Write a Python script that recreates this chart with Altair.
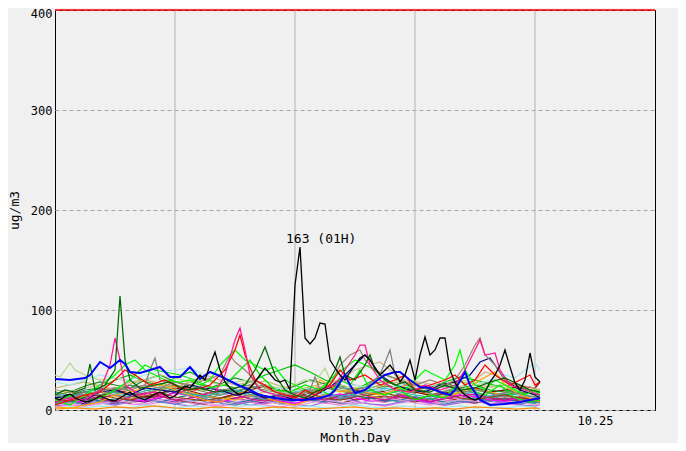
import altair as alt
import pandas as pd

# ---------------- data (hour index: 0 = 10.21 00H) ----------------
DAY_LABELS = ["10.21", "10.22", "10.23", "10.24", "10.25"]
LABEL_HOURS = [12, 36, 60, 84, 108]
DAY_BOUNDS = [24, 48, 72, 96]
Y_TICKS = [0, 100, 200, 300, 400]

HOURLY = list(range(0, 98))
BLACK = [12, 10, 14, 16, 12, 10, 8, 9, 11, 14, 12,
         10, 9, 12, 15, 18, 14, 12, 10, 13, 16,
         18, 15, 12, 14, 20, 24, 22, 28, 35, 30,
         45, 58, 40, 28, 22, 18, 15, 18, 22, 28,
         35, 42, 36, 30, 28, 30, 20, 125, 163, 72,
         66, 72, 87, 86, 50, 42, 35, 30, 38, 45,
         52, 55, 50, 42, 35, 40, 45, 38, 28, 35,
         50, 30, 55, 73, 55, 60, 72, 72, 40, 27,
         20, 15, 12, 10, 12, 18, 28, 35, 45, 60,
         43, 27, 20, 30, 57, 33, 28]

BLUE = [(0, 31), (3, 30), (6, 32), (7, 35), (9, 48), (10, 45), (11, 42), (13, 50), (14, 46), (15, 38),
        (17, 37), (19, 40), (21, 43), (23, 33), (25, 33), (27, 43), (29, 31), (31, 38), (33, 34), (35, 29),
        (37, 24), (39, 20), (41, 15), (44, 12), (47, 10), (50, 10), (53, 12), (55, 15), (56, 20), (58, 35),
        (59, 25), (60, 17), (62, 20), (64, 28), (66, 35), (68, 38), (69, 38), (71, 30), (73, 23), (75, 22),
        (77, 18), (79, 15), (80, 20), (82, 38), (83, 25), (85, 10), (87, 5), (90, 6), (93, 8), (95, 10), (97, 12)]

DKGREEN = [(0, 15), (2, 20), (4, 18), (6, 22), (7, 46), (8, 20), (10, 25), (12, 40), (13, 114), (14, 50),
           (15, 30), (17, 22), (20, 25), (23, 28), (26, 20), (29, 22), (32, 18), (35, 20), (38, 25), (40, 40),
           (42, 63), (44, 35), (46, 20), (48, 15), (50, 12), (52, 18), (54, 22), (56, 40), (57, 53), (58, 35),
           (60, 30), (62, 45), (63, 55), (64, 40), (66, 30), (68, 25), (70, 28), (72, 20), (75, 18), (78, 25),
           (81, 20), (84, 22), (87, 28), (90, 32), (93, 25), (95, 20), (97, 18)]

DEEPPINK = [(0, 8), (3, 12), (6, 10), (9, 20), (11, 45), (12, 72), (13, 50), (14, 25), (17, 15), (20, 18),
            (23, 12), (26, 20), (29, 22), (32, 18), (34, 35), (36, 70), (37, 82), (38, 60), (39, 35), (41, 20),
            (44, 15), (47, 10), (50, 12), (53, 20), (56, 25), (58, 40), (60, 55), (61, 65), (62, 65), (63, 45),
            (65, 30), (68, 20), (71, 18), (74, 25), (77, 20), (80, 25), (82, 40), (84, 60), (85, 70), (86, 55),
            (88, 57), (89, 40), (91, 25), (94, 20), (97, 15)]

RED = [(0, 5), (3, 10), (6, 15), (9, 18), (12, 30), (14, 40), (16, 35), (19, 25), (22, 30), (25, 22),
       (28, 20), (31, 25), (34, 40), (36, 60), (37, 75), (38, 55), (40, 30), (42, 25), (44, 18), (46, 15),
       (48, 12), (50, 20), (52, 15), (55, 25), (57, 40), (59, 30), (62, 35), (65, 25), (68, 30), (70, 35),
       (72, 20), (75, 25), (78, 30), (80, 35), (82, 25), (84, 30), (86, 45), (88, 35), (91, 25), (93, 30),
       (95, 35), (96, 25), (97, 28)]

LIME = [(0, 10), (3, 5), (6, 15), (9, 25), (12, 35), (14, 45), (16, 50), (18, 40), (20, 35), (22, 30),
        (25, 28), (27, 30), (29, 25), (31, 30), (33, 45), (35, 55), (36, 60), (38, 50), (40, 45), (42, 40),
        (44, 43), (46, 30), (48, 25), (50, 20), (52, 15), (54, 25), (56, 35), (58, 42), (60, 50), (62, 45),
        (64, 40), (66, 30), (68, 25), (70, 20), (72, 30), (74, 40), (76, 35), (78, 30), (80, 45), (81, 60),
        (82, 40), (84, 25), (86, 20), (88, 30), (90, 25), (92, 20), (94, 15), (96, 20), (97, 18)]

LIME2 = [(0, 5), (3, 15), (6, 8), (9, 12), (12, 20), (15, 30), (18, 45), (20, 40), (22, 38), (25, 35),
         (28, 30), (31, 22), (34, 25), (37, 40), (39, 50), (41, 35), (44, 20), (47, 18), (50, 25), (53, 20),
         (55, 15), (57, 30), (59, 25), (61, 40), (63, 20), (66, 15), (69, 20), (72, 10), (75, 15), (78, 12),
         (81, 30), (83, 20), (86, 15), (89, 25), (92, 12), (95, 8), (97, 10)]

GRAY = [(0, 15), (3, 12), (6, 18), (9, 15), (12, 20), (15, 22), (18, 25), (19, 40), (20, 52), (21, 30),
        (24, 25), (27, 20), (30, 25), (33, 20), (36, 22), (39, 25), (42, 18), (45, 15), (48, 12), (51, 20),
        (52, 33), (53, 20), (56, 25), (59, 20), (62, 22), (65, 35), (67, 60), (68, 35), (70, 25), (73, 20),
        (76, 15), (79, 20), (82, 18), (85, 20), (88, 15), (91, 18), (94, 15), (97, 12)]

ROSYBROWN = [(0, 10), (3, 12), (6, 15), (9, 18), (12, 22), (15, 20), (18, 25), (21, 22), (24, 28), (27, 25),
             (30, 30), (33, 35), (35, 55), (36, 48), (38, 40), (40, 30), (43, 20), (46, 15), (49, 18), (52, 20),
             (55, 25), (57, 45), (59, 55), (61, 60), (62, 50), (64, 40), (66, 35), (69, 30), (72, 25), (75, 30),
             (78, 25), (80, 30), (82, 45), (84, 65), (85, 72), (86, 55), (88, 45), (90, 30), (92, 25), (95, 20),
             (97, 18)]

PALEGREEN = [(0, 35), (1, 33), (2, 40), (3, 47), (4, 40), (6, 35), (9, 30), (12, 32), (15, 28), (18, 30),
             (21, 35), (24, 32), (27, 28), (30, 30), (33, 25), (36, 28), (39, 30), (42, 25), (45, 22), (48, 25),
             (50, 30), (52, 28), (53, 35), (54, 42), (55, 30), (57, 25), (60, 22), (63, 25), (66, 28), (69, 30),
             (72, 25), (75, 22), (78, 25), (81, 30), (84, 28), (87, 25), (90, 22), (93, 20), (96, 18), (97, 20)]

PALECYAN = [(0, 28), (3, 25), (6, 30), (9, 35), (12, 32), (15, 30), (18, 35), (21, 38), (24, 40), (27, 42),
            (30, 35), (33, 30), (36, 25), (39, 20), (42, 18), (45, 22), (48, 20), (51, 15), (54, 18), (57, 20),
            (60, 25), (63, 22), (66, 20), (69, 25), (72, 28), (75, 25), (78, 22), (81, 20), (84, 25), (87, 30),
            (90, 35), (92, 32), (94, 40), (96, 47), (97, 40)]

NAVY = [(0, 12), (3, 15), (6, 10), (9, 18), (12, 20), (15, 15), (18, 22), (21, 20), (24, 18), (27, 25),
        (30, 22), (33, 20), (36, 15), (39, 18), (42, 12), (45, 15), (48, 10), (51, 12), (54, 20), (57, 30),
        (60, 45), (62, 55), (63, 50), (65, 35), (68, 25), (71, 20), (74, 18), (77, 25), (80, 28), (83, 35),
        (85, 48), (87, 52), (88, 45), (90, 30), (93, 20), (96, 15), (97, 12)]

TAN = [(0, 20), (3, 18), (6, 22), (9, 25), (12, 20), (15, 28), (18, 30), (21, 25), (24, 22), (27, 28),
       (30, 35), (33, 30), (36, 25), (39, 28), (42, 22), (45, 18), (48, 15), (51, 20), (54, 25), (57, 30),
       (60, 40), (63, 45), (65, 48), (67, 40), (70, 30), (73, 28), (76, 25), (79, 20), (82, 25), (84, 30),
       (86, 38), (88, 35), (90, 30), (93, 25), (96, 22), (97, 20)]

ORANGE = [(0, 3), (3, 2), (6, 5), (9, 8), (12, 15), (15, 18), (18, 22), (21, 25), (24, 20), (27, 15),
          (30, 10), (33, 8), (36, 15), (39, 20), (42, 12), (45, 8), (48, 5), (51, 10), (53, 30), (55, 25),
          (57, 18), (60, 22), (62, 18), (65, 15), (68, 20), (70, 25), (72, 28), (74, 22), (76, 20), (79, 15),
          (82, 20), (85, 30), (88, 38), (90, 25), (93, 15), (96, 10), (97, 8)]

DKORANGE = [(0, 1), (4, 2), (8, 1), (12, 3), (16, 2), (20, 4), (24, 2), (28, 1), (32, 3), (36, 2),
            (40, 1), (44, 3), (48, 2), (52, 1), (56, 2), (60, 3), (64, 1), (68, 2), (72, 1), (76, 2),
            (80, 1), (84, 3), (88, 2), (92, 1), (96, 2), (97, 1)]

# background stations, every 3 hours (0, 3, ..., 96) plus hour 97
H3 = list(range(0, 97, 3)) + [97]
PURPLE = [8, 10, 6, 12, 15, 10, 8, 12, 18, 14, 10, 8, 12, 9, 7, 10, 14, 12, 8, 15, 10, 12, 9, 14, 11, 8, 12, 15, 10, 13, 9, 11, 8, 9]
DKORCHID = [5, 8, 12, 9, 6, 10, 14, 11, 8, 12, 16, 10, 7, 9, 13, 8, 6, 11, 9, 12, 15, 10, 8, 13, 10, 7, 9, 12, 14, 10, 8, 6, 9, 7]
VIOLET = [3, 5, 4, 7, 9, 6, 5, 8, 10, 7, 5, 4, 6, 8, 5, 3, 6, 9, 7, 5, 8, 6, 4, 7, 9, 6, 5, 8, 7, 9, 6, 5, 4, 5]
HOTPINK = [6, 9, 12, 8, 10, 14, 12, 9, 7, 11, 15, 18, 12, 8, 6, 9, 12, 10, 7, 11, 14, 9, 8, 12, 10, 7, 9, 12, 15, 11, 8, 10, 9, 8]
SEAGREEN = [18, 15, 20, 22, 18, 25, 20, 17, 22, 28, 24, 20, 18, 22, 25, 20, 16, 19, 23, 20, 18, 22, 26, 20, 17, 21, 24, 19, 22, 18, 20, 17, 16, 15]
DIMGRAY = [12, 15, 10, 14, 18, 16, 12, 15, 20, 17, 13, 11, 15, 12, 10, 14, 17, 13, 11, 15, 18, 14, 12, 16, 13, 11, 14, 17, 15, 12, 14, 11, 10, 12]
BROWN = [8, 6, 10, 12, 9, 7, 11, 14, 10, 8, 6, 9, 12, 15, 11, 8, 10, 13, 9, 7, 10, 12, 14, 10, 8, 11, 13, 9, 7, 10, 12, 9, 8, 10]
TEAL = [10, 8, 12, 9, 11, 14, 10, 8, 12, 15, 11, 9, 7, 10, 13, 9, 12, 10, 8, 11, 14, 12, 9, 10, 13, 11, 8, 10, 12, 9, 11, 8, 7, 8]
STEELBLUE = [6, 8, 5, 9, 7, 10, 12, 8, 6, 9, 11, 7, 5, 8, 10, 6, 9, 12, 10, 7, 6, 9, 11, 8, 10, 7, 6, 9, 8, 10, 7, 6, 8, 7]
OLIVEDRAB = [15, 18, 14, 20, 22, 19, 16, 21, 25, 22, 18, 15, 19, 23, 20, 17, 14, 18, 22, 19, 16, 20, 24, 21, 18, 15, 19, 22, 20, 17, 15, 18, 16, 14]
MEDPURPLE = [4, 6, 9, 7, 5, 8, 11, 9, 6, 4, 7, 10, 8, 5, 7, 9, 6, 4, 8, 11, 9, 6, 5, 8, 10, 7, 5, 7, 9, 6, 8, 5, 4, 6]
DKKHAKI = [22, 25, 28, 24, 20, 26, 30, 27, 23, 28, 32, 26, 22, 25, 29, 24, 20, 23, 27, 30, 25, 22, 26, 28, 24, 21, 25, 28, 26, 23, 25, 22, 20, 21]
SKYBLUE = [2, 3, 2, 4, 3, 2, 5, 3, 2, 4, 3, 2, 3, 5, 4, 2, 3, 4, 2, 3, 5, 3, 2, 4, 3, 2, 3, 4, 2, 3, 2, 4, 3, 2]
DKRED = [12, 15, 18, 14, 20, 17, 13, 16, 22, 19, 15, 12, 16, 20, 24, 18, 14, 17, 21, 25, 20, 16, 19, 23, 18, 15, 17, 20, 22, 18, 20, 24, 22, 28]
FOREST = [20, 18, 24, 28, 25, 22, 30, 35, 28, 24, 20, 26, 32, 28, 22, 19, 24, 30, 26, 22, 20, 25, 29, 24, 20, 23, 27, 22, 25, 20, 18, 22, 19, 17]
MAGENTA = [7, 10, 8, 12, 15, 11, 9, 13, 17, 14, 10, 8, 11, 14, 12, 9, 7, 10, 13, 16, 12, 9, 11, 14, 10, 8, 12, 15, 13, 10, 9, 12, 10, 9]
CADET = [14, 12, 16, 19, 15, 13, 17, 21, 18, 14, 12, 15, 18, 14, 11, 13, 16, 19, 15, 12, 14, 17, 20, 16, 13, 11, 14, 17, 15, 12, 14, 13, 11, 12]
GOLDEN = [10, 12, 15, 18, 14, 11, 16, 20, 24, 18, 14, 12, 10, 14, 18, 22, 16, 12, 15, 20, 18, 14, 11, 15, 19, 16, 13, 17, 21, 18, 15, 12, 14, 12]
GREEN2 = [10, 14, 18, 22, 30, 35, 28, 25, 32, 38, 30, 26, 22, 28, 35, 40, 45, 38, 30, 25, 20, 28, 35, 30, 25, 22, 28, 33, 30, 26, 22, 20, 18, 15]
PLUM = [5, 7, 4, 6, 9, 8, 6, 10, 12, 9, 7, 5, 8, 11, 9, 6, 4, 7, 10, 8, 6, 9, 12, 10, 7, 5, 8, 10, 9, 7, 6, 8, 5, 6]
MVRED = [9, 12, 15, 11, 8, 13, 17, 14, 10, 12, 16, 20, 15, 11, 9, 12, 16, 13, 10, 14, 18, 13, 10, 15, 12, 9, 11, 14, 16, 12, 10, 13, 11, 10]
LSEAGREEN = [16, 14, 18, 21, 17, 15, 19, 23, 20, 16, 14, 17, 20, 16, 13, 15, 18, 21, 17, 14, 16, 19, 22, 18, 15, 13, 16, 19, 17, 14, 16, 15, 13, 14]
SADDLE = [11, 9, 13, 15, 12, 10, 14, 17, 13, 11, 9, 12, 15, 18, 14, 11, 13, 16, 12, 10, 13, 15, 17, 13, 11, 14, 16, 12, 10, 13, 15, 12, 11, 13]

PEAK = {"h": 49, "v": 163, "label": "163 (01H)"}

# ---------------- build tables ----------------
grid_series = [
    ("purple", "#800080", PURPLE), ("dkorchid", "#9932CC", DKORCHID), ("violet", "#EE82EE", VIOLET),
    ("hotpink", "#FF77CC", HOTPINK), ("seagreen", "#2E8B57", SEAGREEN), ("dimgray", "#696969", DIMGRAY),
    ("brown", "#A52A2A", BROWN), ("teal", "#008080", TEAL), ("steelblue", "#4682B4", STEELBLUE),
    ("olivedrab", "#6B8E23", OLIVEDRAB), ("medpurple", "#9370DB", MEDPURPLE), ("dkkhaki", "#BDB76B", DKKHAKI),
    ("skyblue", "#9EE6F0", SKYBLUE), ("dkred", "#8B0000", DKRED), ("forest", "#228B22", FOREST),
    ("magenta", "#FF00FF", MAGENTA), ("cadet", "#5F9EA0", CADET), ("golden", "#DAA520", GOLDEN),
    ("green2", "#00C000", GREEN2), ("plum", "#DDA0DD", PLUM), ("mvred", "#C71585", MVRED),
    ("lseagreen", "#20B2AA", LSEAGREEN), ("saddle", "#8B4513", SADDLE),
]
pair_series = [
    ("dkorange", "#FF8C00", DKORANGE), ("palegreen", "#B5D88A", PALEGREEN), ("palecyan", "#A8E8F0", PALECYAN),
    ("tan", "#D2B48C", TAN), ("orange", "#FFA500", ORANGE), ("navy", "#000080", NAVY),
    ("gray", "#808080", GRAY), ("rosybrown", "#A0826D", ROSYBROWN), ("lime2", "#00EE00", LIME2),
    ("lime", "#00FF00", LIME), ("red", "#FF0000", RED), ("deeppink", "#FF1493", DEEPPINK),
    ("dkgreen", "#006400", DKGREEN),
]

rows = []
for name, _, vals in grid_series:
    for h, v in zip(H3, vals):
        rows.append({"s": name, "h": h, "v": v})
for name, _, pairs in pair_series:
    for h, v in pairs:
        rows.append({"s": name, "h": h, "v": v})
thin_df = pd.DataFrame(rows)
color_domain = [n for n, _, _ in grid_series] + [n for n, _, _ in pair_series]
color_range = [c for _, c, _ in grid_series] + [c for _, c, _ in pair_series]

blue_df = pd.DataFrame({"h": [p[0] for p in BLUE], "v": [p[1] for p in BLUE]})
black_df = pd.DataFrame({"h": HOURLY, "v": BLACK})
bounds_df = pd.DataFrame({"h": DAY_BOUNDS})
peak_df = pd.DataFrame([PEAK])

FONT = "DejaVu Sans Mono"
label_expr = "[" + ",".join("'%s'" % d for d in DAY_LABELS) + "][floor(datum.value / 24)]"

X = alt.X("h:Q", scale=alt.Scale(domain=[0, 120], nice=False, zero=False),
          axis=alt.Axis(values=LABEL_HOURS, labelExpr=label_expr, grid=False, ticks=False, domain=False,
                        title="Month.Day", labelPadding=5, titlePadding=5))
Y = alt.Y("v:Q", scale=alt.Scale(domain=[0, 400], nice=False),
          axis=alt.Axis(values=Y_TICKS, grid=True, gridDash=[4, 3], gridColor="#A8A8A8", ticks=False,
                        domain=False, title="ug/m3", labelPadding=3, titlePadding=9,
                        labelOffset={"condition": {"test": "datum.value == 400", "value": 3}, "value": 0}))

vrules = alt.Chart(bounds_df).mark_rule(color="#B4B4B4", strokeWidth=1).encode(x=X)
thin = alt.Chart(thin_df).mark_line(strokeWidth=1.25).encode(
    x=X, y=Y,
    color=alt.Color("s:N", scale=alt.Scale(domain=color_domain, range=color_range), legend=None),
)
blue = alt.Chart(blue_df).mark_line(color="#0000FF", strokeWidth=2).encode(x=X, y=Y)
black = alt.Chart(black_df).mark_line(color="#000000", strokeWidth=1.3).encode(x=X, y=Y)
top = alt.Chart(peak_df).mark_rule(color="#FF0000", strokeWidth=1.5).encode(y=alt.datum(400))
txt = alt.Chart(peak_df).mark_text(font=FONT, fontSize=13, align="left", baseline="alphabetic",
                                   dx=-14, dy=-4, color="black").encode(x=X, y=Y, text="label:N")

chart = alt.layer(vrules, thin, blue, black, top, txt).properties(
    width=600, height=400,
    padding={"left": 47, "top": 2, "right": 23, "bottom": 33},
    autosize=alt.AutoSizeParams(type="none"),
    background="#F0F0F0",
).configure_view(
    stroke="#000000", strokeWidth=1, fill="#F0F0F0"
).configure_axis(
    labelFont=FONT, labelFontSize=12, labelColor="#000000",
    titleFont=FONT, titleFontSize=13, titleFontWeight="normal", titleColor="#000000",
)

chart.save("out.html", embed_options={"renderer": "svg", "actions": False})
